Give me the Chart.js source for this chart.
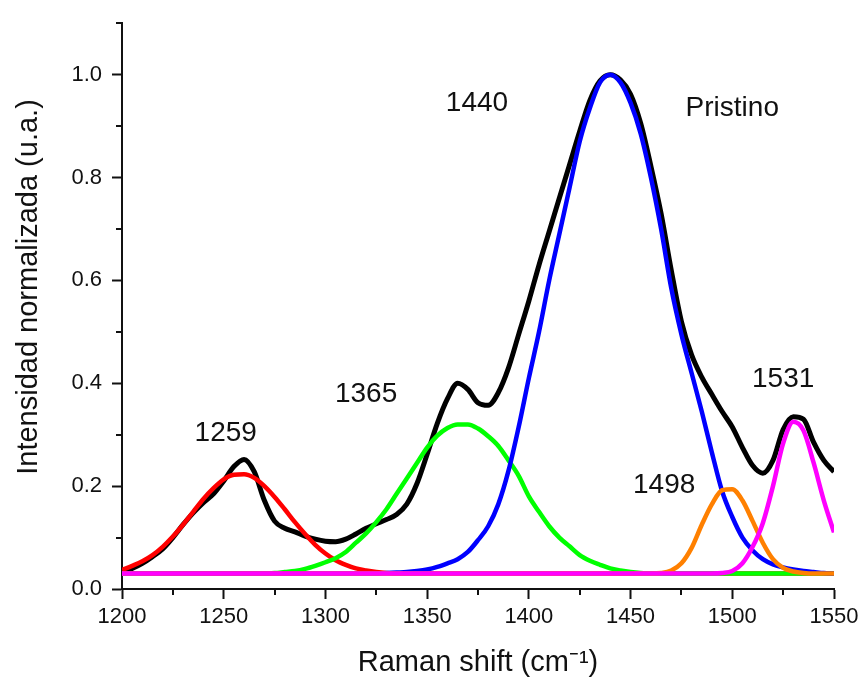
<!DOCTYPE html>
<html>
<head>
<meta charset="utf-8">
<script src="https://cdn.jsdelivr.net/npm/chart.js@4.4.1/dist/chart.umd.min.js"></script>
<style>
  html, body { margin: 0; padding: 0; background: #fff; }
  #wrap { width: 864px; height: 681px; }
</style>
</head>
<body>
<div id="wrap"><canvas id="chart" width="864" height="681"></canvas></div>
<script>
// Raman shift axis (cm-1), one point every 5 cm-1
const shift = [
  1200, 1205, 1210, 1215, 1220, 1225, 1230, 1235, 1240, 1245,
  1250, 1255, 1260, 1265, 1270, 1275, 1280, 1285, 1290, 1295,
  1300, 1305, 1310, 1315, 1320, 1325, 1330, 1335, 1340, 1345,
  1350, 1355, 1360, 1365, 1370, 1375, 1380, 1385, 1390, 1395,
  1400, 1405, 1410, 1415, 1420, 1425, 1430, 1435, 1440, 1445,
  1450, 1455, 1460, 1465, 1470, 1475, 1480, 1485, 1490, 1495,
  1500, 1505, 1510, 1515, 1520, 1525, 1530, 1535, 1540, 1545,
  1550
];

// measured spectrum (black)
const pristino = [
  0.033, 0.040, 0.050, 0.063, 0.078, 0.100, 0.125, 0.148, 0.168, 0.185,
  0.210, 0.238, 0.252, 0.228, 0.172, 0.132, 0.118, 0.111, 0.103, 0.097,
  0.093, 0.092, 0.097, 0.107, 0.118, 0.127, 0.135, 0.145, 0.165, 0.205,
  0.262, 0.322, 0.370, 0.400, 0.388, 0.362, 0.357, 0.382, 0.430, 0.495,
  0.560, 0.630, 0.695, 0.760, 0.825, 0.890, 0.950, 0.988, 1.000, 0.990,
  0.962, 0.905, 0.822, 0.730, 0.620, 0.520, 0.455, 0.412, 0.378, 0.345,
  0.315, 0.275, 0.240, 0.225, 0.250, 0.310, 0.335, 0.330, 0.285, 0.250,
  0.228
];

// fitted components
const fit1259 = [
  0.037, 0.045, 0.054, 0.066, 0.082, 0.102, 0.125, 0.150, 0.175, 0.196,
  0.213, 0.222, 0.223, 0.216, 0.200, 0.179, 0.155, 0.130, 0.107, 0.086,
  0.069, 0.056, 0.047, 0.040, 0.036, 0.033, 0.031, 0.030, 0.030, 0.030,
  0.030, 0.030, 0.030, 0.030, 0.030, 0.030, 0.030, 0.030, 0.030, 0.030,
  0.030, 0.030, 0.030, 0.030, 0.030, 0.030, 0.030, 0.030, 0.030, 0.030,
  0.030, 0.030, 0.030, 0.030, 0.030, 0.030, 0.030, 0.030, 0.030, 0.030,
  0.030, 0.030, 0.030, 0.030, 0.030, 0.030, 0.030, 0.030, 0.030, 0.030,
  0.030
];
const fit1365 = [
  0.030, 0.030, 0.030, 0.030, 0.030, 0.030, 0.030, 0.030, 0.030, 0.030,
  0.030, 0.030, 0.030, 0.030, 0.030, 0.031, 0.033, 0.035, 0.039, 0.045,
  0.052, 0.060, 0.072, 0.090, 0.108, 0.130, 0.155, 0.185, 0.215, 0.245,
  0.275, 0.298, 0.313, 0.320, 0.320, 0.312, 0.297, 0.278, 0.250, 0.220,
  0.180, 0.150, 0.122, 0.100, 0.083, 0.066, 0.055, 0.047, 0.040, 0.036,
  0.033, 0.031, 0.030, 0.030, 0.030, 0.030, 0.030, 0.030, 0.030, 0.030,
  0.030, 0.030, 0.030, 0.030, 0.030, 0.030, 0.030, 0.030, 0.030, 0.030,
  0.030
];
const fit1440 = [
  0.030, 0.030, 0.030, 0.030, 0.030, 0.030, 0.030, 0.030, 0.030, 0.030,
  0.030, 0.030, 0.030, 0.030, 0.030, 0.030, 0.030, 0.030, 0.030, 0.030,
  0.030, 0.030, 0.030, 0.030, 0.030, 0.030, 0.031, 0.032, 0.033, 0.035,
  0.038, 0.043, 0.050, 0.058, 0.072, 0.095, 0.122, 0.165, 0.230, 0.315,
  0.410, 0.500, 0.600, 0.690, 0.780, 0.870, 0.935, 0.985, 1.000, 0.985,
  0.945, 0.885, 0.800, 0.700, 0.585, 0.495, 0.420, 0.345, 0.265, 0.190,
  0.140, 0.100, 0.075, 0.058, 0.048, 0.042, 0.038, 0.035, 0.033, 0.031,
  0.030
];
const fit1498 = [
  0.030, 0.030, 0.030, 0.030, 0.030, 0.030, 0.030, 0.030, 0.030, 0.030,
  0.030, 0.030, 0.030, 0.030, 0.030, 0.030, 0.030, 0.030, 0.030, 0.030,
  0.030, 0.030, 0.030, 0.030, 0.030, 0.030, 0.030, 0.030, 0.030, 0.030,
  0.030, 0.030, 0.030, 0.030, 0.030, 0.030, 0.030, 0.030, 0.030, 0.030,
  0.030, 0.030, 0.030, 0.030, 0.030, 0.030, 0.030, 0.030, 0.030, 0.030,
  0.030, 0.030, 0.030, 0.031, 0.036, 0.050, 0.080, 0.125, 0.165, 0.192,
  0.194, 0.172, 0.132, 0.090, 0.058, 0.041, 0.034, 0.031, 0.030, 0.030,
  0.030
];
const fit1531 = [
  0.030, 0.030, 0.030, 0.030, 0.030, 0.030, 0.030, 0.030, 0.030, 0.030,
  0.030, 0.030, 0.030, 0.030, 0.030, 0.030, 0.030, 0.030, 0.030, 0.030,
  0.030, 0.030, 0.030, 0.030, 0.030, 0.030, 0.030, 0.030, 0.030, 0.030,
  0.030, 0.030, 0.030, 0.030, 0.030, 0.030, 0.030, 0.030, 0.030, 0.030,
  0.030, 0.030, 0.030, 0.030, 0.030, 0.030, 0.030, 0.030, 0.030, 0.030,
  0.030, 0.030, 0.030, 0.030, 0.030, 0.030, 0.030, 0.030, 0.030, 0.031,
  0.035, 0.050, 0.082, 0.128, 0.200, 0.283, 0.325, 0.308, 0.245, 0.172,
  0.110
];

// text labels inside the plot and where they sit (data units)
const noteText = ["1259", "1365", "1440", "Pristino", "1498", "1531"];
const noteX = [1251, 1320, 1374.5, 1500, 1466.5, 1525];
const noteY = [0.302, 0.378, 0.945, 0.935, 0.202, 0.408];

const yTitle = "Intensidad normalizada (u.a.)";

const FONT = "'Liberation Sans', Arial, Helvetica, sans-serif";
const INK = "#111";

const toPoints = ys => shift.map((x, i) => ({ x: x, y: ys[i] }));

const isMajorX = v => Math.round(v) % 50 === 0;
const isMajorY = v => Math.round(v * 10) % 2 === 0;

// short minor ticks (Chart.js only draws one tick length)
const minorTicks = {
  id: "minorTicks",
  afterDraw(chart) {
    const ctx = chart.ctx;
    const xs = chart.scales.x, ys = chart.scales.y;
    const area = chart.chartArea;
    ctx.save();
    ctx.strokeStyle = INK;
    ctx.lineWidth = 2;
    ctx.beginPath();
    xs.ticks.forEach(t => {
      if (isMajorX(t.value)) return;
      const px = Math.round(xs.getPixelForValue(t.value));
      ctx.moveTo(px, area.bottom);
      ctx.lineTo(px, area.bottom + 6);
    });
    ys.ticks.forEach(t => {
      if (isMajorY(t.value)) return;
      const py = Math.round(ys.getPixelForValue(t.value));
      ctx.moveTo(area.left, py);
      ctx.lineTo(area.left - 6, py);
    });
    ctx.stroke();
    ctx.restore();
  }
};

// peak labels + the y axis title (it sits a bit above the axis centre)
const notes = {
  id: "notes",
  afterDatasetsDraw(chart) {
    const ctx = chart.ctx;
    const xs = chart.scales.x, ys = chart.scales.y;
    ctx.save();
    ctx.fillStyle = INK;
    ctx.font = "28px " + FONT;
    ctx.textAlign = "center";
    ctx.textBaseline = "middle";
    noteText.forEach((t, i) => {
      ctx.fillText(t, xs.getPixelForValue(noteX[i]), ys.getPixelForValue(noteY[i]));
    });
    ctx.font = "29px " + FONT;
    ctx.translate(29, 287);
    ctx.rotate(-Math.PI / 2);
    ctx.fillText(yTitle, 0, 0);
    ctx.restore();
  }
};

function line(data, color, order, width) {
  return {
    data: toPoints(data),
    borderColor: color,
    borderWidth: width,
    pointRadius: 0,
    fill: false,
    cubicInterpolationMode: "monotone",
    order: order
  };
}

new Chart(document.getElementById("chart"), {
  type: "line",
  data: {
    datasets: [
      line(pristino, "#000000", 5, 5),
      line(fit1259, "#ff0000", 4, 4.5),
      line(fit1365, "#00ff00", 3, 4.5),
      line(fit1440, "#0000ff", 2, 4.5),
      line(fit1498, "#ff8000", 1, 4.5),
      line(fit1531, "#ff00ff", 0, 4.5)
    ]
  },
  options: {
    responsive: false,
    animation: false,
    events: [],
    layout: { padding: { top: 14, right: 30, left: 0, bottom: 0 } },
    plugins: { legend: { display: false }, tooltip: { enabled: false } },
    scales: {
      x: {
        type: "linear",
        min: 1200,
        max: 1550,
        afterFit: s => { s.height = 92; },
        border: { display: true, color: INK, width: 2 },
        grid: {
          drawOnChartArea: false,
          tickLength: 10,
          tickWidth: 2,
          tickColor: c => (c.tick && isMajorX(c.tick.value)) ? INK : "rgba(0,0,0,0)"
        },
        ticks: {
          stepSize: 25,
          autoSkip: false,
          maxRotation: 0,
          padding: 5,
          color: INK,
          font: { family: FONT, size: 22 },
          callback: v => isMajorX(v) ? String(v) : ""
        },
        title: {
          display: true,
          text: "Raman shift (cm\u207B\u00B9)",
          color: INK,
          font: { family: FONT, size: 29 },
          padding: { top: 0, bottom: 1 }
        }
      },
      y: {
        min: 0,
        max: 1.1,
        afterFit: s => { s.width = 122; },
        border: { display: true, color: INK, width: 2 },
        grid: {
          drawOnChartArea: false,
          tickLength: 10,
          tickWidth: 2,
          tickColor: c => (c.tick && isMajorY(c.tick.value)) ? INK : "rgba(0,0,0,0)"
        },
        ticks: {
          stepSize: 0.1,
          autoSkip: false,
          padding: 10,
          color: INK,
          font: { family: FONT, size: 22 },
          callback: v => isMajorY(v) ? v.toFixed(1) : ""
        },
        title: { display: false }
      }
    }
  },
  plugins: [minorTicks, notes]
});
</script>
</body>
</html>
